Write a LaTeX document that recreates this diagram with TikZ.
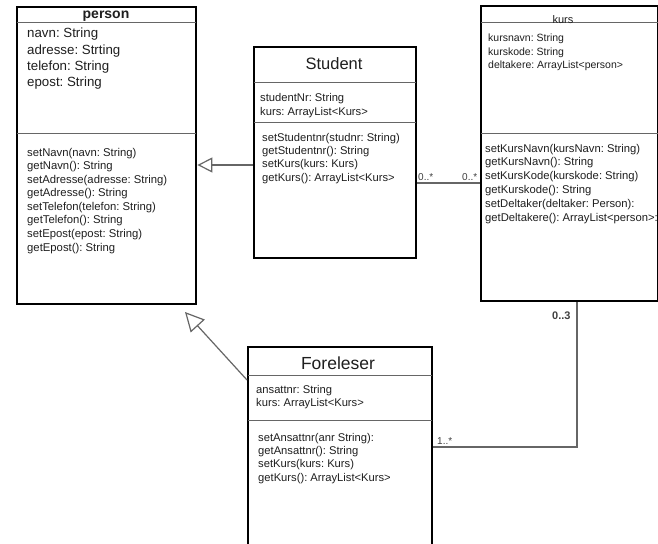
\documentclass[tikz,border=0pt]{standalone}
\usepackage{fontspec}
\setmainfont{Liberation Sans}
\usetikzlibrary{arrows.meta}
\frenchspacing

\begin{document}
\begin{tikzpicture}[x=1pt,y=-1pt,
  umlbox/.style={draw=black, line width=2.4pt, fill=white, inner sep=0pt, anchor=north west},
  sep/.style={draw=black!60, line width=1pt, shorten <=1.2pt, shorten >=1.2pt},
  cls/.style={inner sep=0pt, anchor=base, text=black!88},
  members/.style={inner sep=0pt, anchor=north west, align=left, text=black!88},
  mult/.style={inner sep=0pt, anchor=base west, text=black!75, font=\fontsize{10}{12}\selectfont},
  conn/.style={draw=black!60, line width=1.2pt},
  gensmall/.style={conn, -{Triangle[open, length=15pt, width=15pt, line width=1.2pt, fill=white]}},
  genlarge/.style={conn, -{Triangle[open, length=19pt, width=19pt, line width=1.2pt, fill=white]}}
]
\clip (0,0) rectangle (658,543);
\fill[white] (0,0) rectangle (658,543);

% ---- class person ----
\node[umlbox, minimum width=179pt, minimum height=297pt] (person) at (16,6) {};
\draw[sep] (person.west |- 0,23) -- (person.east |- 0,23);
\draw[sep] (person.west |- 0,133) -- (person.east |- 0,133);
\node[cls, font=\bfseries\fontsize{14}{16}\selectfont] (person-name) at (106,19) {person};
\node[members, font=\fontsize{13.3}{16.3}\selectfont] (person-attr) at (27,28)
  {navn: String\\adresse: Strting\\telefon: String\\epost: String};
\node[members, font=\fontsize{11.3}{13.57}\selectfont] (person-ops) at (27,147.7)
  {setNavn(navn: String)\\getNavn(): String\\setAdresse(adresse: String)\\getAdresse(): String\\setTelefon(telefon: String)\\getTelefon(): String\\setEpost(epost: String)\\getEpost(): String};

% ---- class Student ----
\node[umlbox, minimum width=162pt, minimum height=211pt] (student) at (253,46) {};
\draw[sep] (student.west |- 0,82) -- (student.east |- 0,82);
\draw[sep] (student.west |- 0,122) -- (student.east |- 0,122);
\node[cls, font=\fontsize{16.5}{19}\selectfont] (student-name) at (334,70) {Student};
\node[members, font=\fontsize{11.2}{14}\selectfont] (student-attr) at (260,92.8)
  {studentNr: String\\kurs: ArrayList<Kurs>};
\node[members, font=\fontsize{11.2}{13.3}\selectfont] (student-ops) at (262,132.8)
  {setStudentnr(studnr: String)\\getStudentnr(): String\\setKurs(kurs: Kurs)\\getKurs(): ArrayList<Kurs>};

% ---- class kurs ----
\node[umlbox, minimum width=177pt, minimum height=295pt] (kurs) at (480,5) {};
\draw[sep] (kurs.west |- 0,23) -- (kurs.east |- 0,23);
\draw[sep] (kurs.west |- 0,133) -- (kurs.east |- 0,133);
\node[cls, font=\fontsize{11}{13}\selectfont] (kurs-name) at (563,24) {kurs};
\node[members, font=\fontsize{10.5}{13.5}\selectfont] (kurs-attr) at (488,34)
  {kursnavn: String\\kurskode: String\\deltakere: ArrayList<person>};
\node[members, font=\fontsize{11.25}{13.8}\selectfont] (kurs-ops) at (485,143.8)
  {setKursNavn(kursNavn: String)\\getKursNavn(): String\\setKursKode(kurskode: String)\\getKurskode(): String\\setDeltaker(deltaker: Person):\\getDeltakere(): ArrayList<person>:};

% ---- class Foreleser ----
\node[umlbox, minimum width=184pt, minimum height=220pt] (foreleser) at (247,346) {};
\draw[sep] (foreleser.west |- 0,375) -- (foreleser.east |- 0,375);
\draw[sep] (foreleser.west |- 0,420) -- (foreleser.east |- 0,420);
\node[cls, font=\fontsize{17.5}{20}\selectfont] (foreleser-name) at (338,369) {Foreleser};
\node[members, font=\fontsize{11.2}{13.5}\selectfont] (foreleser-attr) at (256,384.8)
  {ansattnr: String\\kurs: ArrayList<Kurs>};
\node[members, font=\fontsize{11.2}{13.3}\selectfont] (foreleser-ops) at (258,432.8)
  {setAnsattnr(anr String):\\getAnsattnr(): String\\setKurs(kurs: Kurs)\\getKurs(): ArrayList<Kurs>};

% ---- relations ----
\coordinate (genY) at (0,165);
\draw[gensmall] (student.west |- genY) -- (person.east |- genY);

\coordinate (assocY) at (0,183);
\draw[conn] (student.east |- assocY) -- (kurs.west |- assocY);

\coordinate (fstart) at (0,380);
\coordinate (gentip) at (185,312);
\draw[genlarge] (foreleser.west |- fstart) -- (gentip);

\coordinate (teachY) at (0,447);
\coordinate (teachX) at (577,0);
\draw[conn] (foreleser.east |- teachY) -| (kurs.south -| teachX);

% ---- multiplicities ----
\node[mult] (m-student) at (418,180) {0..*};
\node[mult] (m-kurs) at (462,180) {0..*};
\node[mult] (m-foreleser) at (437,444) {1..*};
\node[mult, font=\bfseries\fontsize{11}{13}\selectfont] (m-kurs-teach) at (552,319) {0..3};
\end{tikzpicture}
\end{document}
